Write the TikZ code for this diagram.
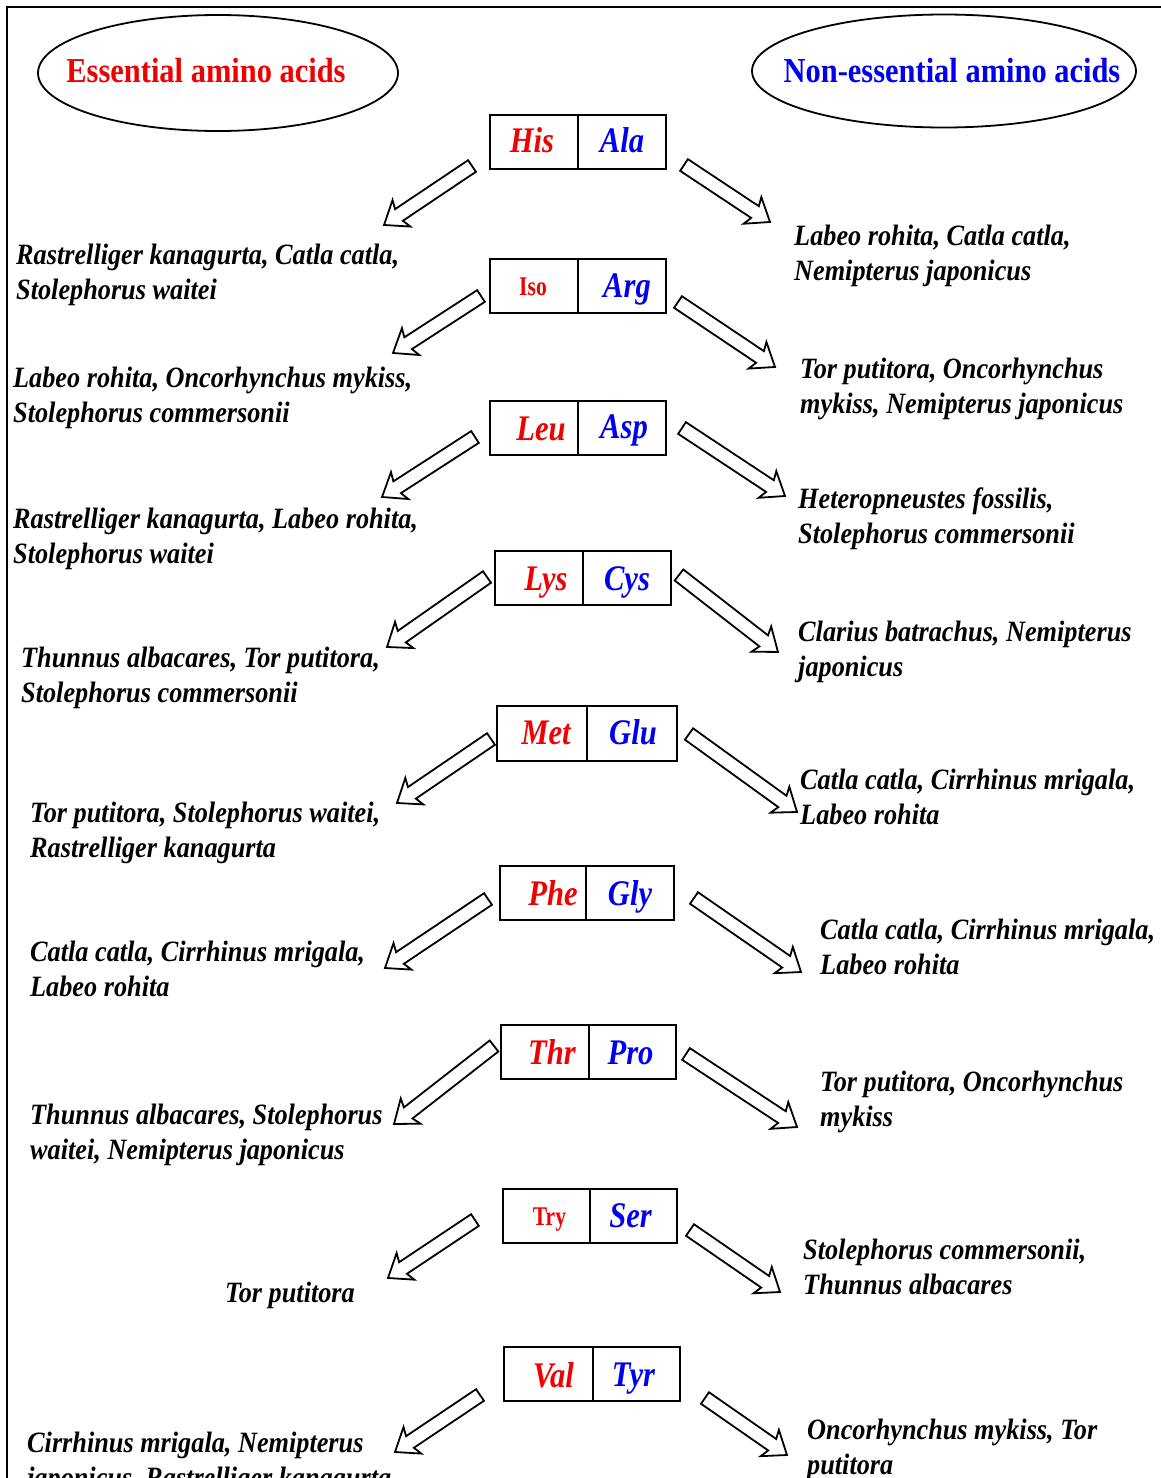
\documentclass[tikz,border=0pt]{standalone}
\usepackage{fontspec}
\usetikzlibrary{calc,shapes.geometric}
\newfontfamily\spf[FakeStretch=0.89]{Liberation Serif}
\newfontfamily\hdf[FakeStretch=0.87]{Liberation Serif}
\newfontfamily\lbf[FakeStretch=0.85]{Liberation Serif}
\newfontfamily\smf[FakeStretch=0.8]{Liberation Serif}
\definecolor{essred}{RGB}{240,0,0}
\definecolor{nonblue}{RGB}{0,0,240}
\tikzset{
  frameline/.style={line width=2pt},
  headell/.style={ellipse, draw, line width=1.8pt, inner sep=0pt},
  headtxt/.style={font=\hdf\bfseries\fontsize{35}{40}\selectfont, inner sep=0pt},
  cellbox/.style={draw, line width=2pt, inner sep=0pt},
  esslab/.style={font=\lbf\bfseries\itshape\fontsize{36}{40}\selectfont, text=essred, inner sep=0pt, anchor=base},
  esssmall/.style={font=\smf\bfseries\fontsize{27}{30}\selectfont, text=essred, inner sep=0pt, anchor=base},
  nonlab/.style={font=\lbf\bfseries\itshape\fontsize{36}{40}\selectfont, text=nonblue, inner sep=0pt, anchor=base},
  species/.style={font=\spf\bfseries\itshape\fontsize{29.5}{35}\selectfont, align=left, anchor=base west, inner sep=0pt},
  blockarr/.style={draw, line width=1.8pt, fill=white, line join=miter},
}
\newcommand\blockarrow[2]{%
  \draw[blockarr] let \p1=($(#2)-(#1)$), \n1={atan2(\y1,\x1)}, \n2={veclen(\x1,\y1)} in
    [shift={(#1)}, rotate=\n1] (0pt,-7pt) -- ({\n2*1pt-18pt},-7pt) -- ({\n2*1pt-21pt},-16pt)
    -- ({\n2*1pt},0pt) -- ({\n2*1pt-21pt},16pt) -- ({\n2*1pt-18pt},7pt) -- (0pt,7pt) -- cycle;}
\newcommand\pairbox[6]{%
  \node[cellbox, minimum width={#3-#2}, minimum height={#6-#5}] (#1L) at ({(#2+#3)/2},{(#5+#6)/2}) {};
  \node[cellbox, minimum width={#4-#3}, minimum height={#6-#5}] (#1R) at ({(#3+#4)/2},{(#5+#6)/2}) {};}
\begin{document}
\begin{tikzpicture}[x=1pt,y=-1pt]
\useasboundingbox (0,0) rectangle (1161,1478);
\clip (0,0) rectangle (1161,1478);
\fill[white] (0,0) rectangle (1161,1478);
\draw[frameline] (7,1490) -- (7,7) -- (1170,7);

% headers
\node[headell, minimum width=360pt, minimum height=116pt] (essell) at (218,73) {};
\node[headtxt, text=essred] (esstxt) at (206,71) {Essential amino acids};
\node[headell, minimum width=384pt, minimum height=113pt] (nonell) at (944,71) {};
\node[headtxt, text=nonblue] (nontxt) at (952,71) {Non-essential amino acids};

% boxes
\pairbox{b1}{490}{578}{666}{115}{169}
\pairbox{b2}{490}{578}{666}{259}{313}
\pairbox{b3}{490}{578}{666}{401}{455}
\pairbox{b4}{495}{583}{671}{551}{605}
\pairbox{b5}{497}{587}{677}{706}{761}
\pairbox{b6}{500}{586}{674}{866}{920}
\pairbox{b7}{501}{589}{676}{1025}{1079}
\pairbox{b8}{503}{590}{677}{1189}{1243}
\pairbox{b9}{504}{593}{680}{1347}{1401}

\node[esslab] (his) at ($(b1L.center)+(-2,10)$) {His};
\node[nonlab] (ala) at ($(b1R.center)+(0,10)$) {Ala};
\node[esssmall] (iso) at ($(b2L.center)+(-1,9)$) {Iso};
\node[nonlab] (arg) at ($(b2R.center)+(5,11)$) {Arg};
\node[esslab] (leu) at ($(b3L.center)+(7,12)$) {Leu};
\node[nonlab] (asp) at ($(b3R.center)+(2,10)$) {Asp};
\node[esslab] (lys) at ($(b4L.center)+(7,12)$) {Lys};
\node[nonlab] (cys) at ($(b4R.center)+(0,12)$) {Cys};
\node[esslab] (met) at ($(b5L.center)+(4,11)$) {Met};
\node[nonlab] (glu) at ($(b5R.center)+(1,11)$) {Glu};
\node[esslab] (phe) at ($(b6L.center)+(10,12)$) {Phe};
\node[nonlab] (gly) at ($(b6R.center)+(0,12)$) {Gly};
\node[esslab] (thr) at ($(b7L.center)+(7,12)$) {Thr};
\node[nonlab] (pro) at ($(b7R.center)+(-2,12)$) {Pro};
\node[esssmall] (try) at ($(b8L.center)+(3,9)$) {Try};
\node[nonlab] (ser) at ($(b8R.center)+(-3,11)$) {Ser};
\node[esslab] (val) at ($(b9L.center)+(5,13)$) {Val};
\node[nonlab] (tyr) at ($(b9R.center)+(-3,12)$) {Tyr};

% arrow end points
\coordinate (l1s) at (472,166); \coordinate (l1e) at (384,225);
\coordinate (l2s) at (481,296); \coordinate (l2e) at (393,353);
\coordinate (l3s) at (475,437); \coordinate (l3e) at (382,497);
\coordinate (l4s) at (487,577); \coordinate (l4e) at (387,647);
\coordinate (l5s) at (491,739); \coordinate (l5e) at (397,803);
\coordinate (l6s) at (488,899); \coordinate (l6e) at (385,968);
\coordinate (l7s) at (494,1046); \coordinate (l7e) at (394,1124);
\coordinate (l8s) at (475,1220); \coordinate (l8e) at (388,1278);
\coordinate (l9s) at (480,1395); \coordinate (l9e) at (395,1452);
\coordinate (r1s) at (684,165); \coordinate (r1e) at (770,222);
\coordinate (r2s) at (678,302); \coordinate (r2e) at (775,367);
\coordinate (r3s) at (682,428); \coordinate (r3e) at (785,496);
\coordinate (r4s) at (679,575); \coordinate (r4e) at (778,652);
\coordinate (r5s) at (689,734); \coordinate (r5e) at (797,812);
\coordinate (r6s) at (694,898); \coordinate (r6e) at (801,972);
\coordinate (r7s) at (686,1054); \coordinate (r7e) at (797,1127);
\coordinate (r8s) at (690,1230); \coordinate (r8e) at (780,1292);
\coordinate (r9s) at (705,1398); \coordinate (r9e) at (787,1455);
\foreach \i in {1,...,9} {\blockarrow{l\i s}{l\i e}\blockarrow{r\i s}{r\i e}}

% species, essential side (anchor = baseline of last line)
\node[species] (s1) at (16,299) {Rastrelliger kanagurta, Catla catla,\\Stolephorus waitei};
\node[species] (s2) at (13,422) {Labeo rohita, Oncorhynchus mykiss,\\Stolephorus commersonii};
\node[species] (s3) at (13,563) {Rastrelliger kanagurta, Labeo rohita,\\Stolephorus waitei};
\node[species] (s4) at (21,702) {Thunnus albacares, Tor putitora,\\Stolephorus commersonii};
\node[species] (s5) at (30,857) {Tor putitora, Stolephorus waitei,\\Rastrelliger kanagurta};
\node[species] (s6) at (30,996) {Catla catla, Cirrhinus mrigala,\\Labeo rohita};
\node[species] (s7) at (30,1159) {Thunnus albacares, Stolephorus\\waitei, Nemipterus japonicus};
\node[species] (s8) at (225,1302) {Tor putitora};
\node[species] (s9) at (27,1487) {Cirrhinus mrigala, Nemipterus\\japonicus, Rastrelliger kanagurta};

% species, non-essential side
\node[species] (t1) at (794,280) {Labeo rohita, Catla catla,\\Nemipterus japonicus};
\node[species] (t2) at (800,413) {Tor putitora, Oncorhynchus\\mykiss, Nemipterus japonicus};
\node[species] (t3) at (798,543) {Heteropneustes fossilis,\\Stolephorus commersonii};
\node[species] (t4) at (798,676) {Clarius batrachus, Nemipterus\\japonicus};
\node[species] (t5) at (800,824) {Catla catla, Cirrhinus mrigala,\\Labeo rohita};
\node[species] (t6) at (820,974) {Catla catla, Cirrhinus mrigala,\\Labeo rohita};
\node[species] (t7) at (820,1126) {Tor putitora, Oncorhynchus\\mykiss};
\node[species] (t8) at (803,1294) {Stolephorus commersonii,\\Thunnus albacares};
\node[species] (t9) at (807,1474) {Oncorhynchus mykiss, Tor\\putitora};
\end{tikzpicture}
\end{document}
